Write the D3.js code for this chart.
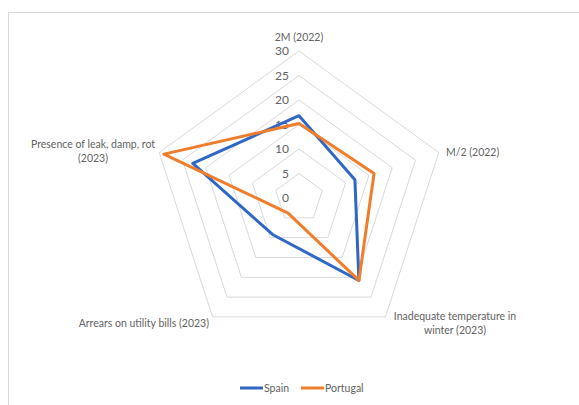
<!DOCTYPE html>
<html>
<head>
<meta charset="utf-8">
<script src="https://cdn.jsdelivr.net/npm/d3@7"></script>
<style>
  html, body { margin: 0; padding: 0; background: #fff; }
  svg { display: block; }
  text { font-family: Lato, "Open Sans", sans-serif; fill: #626262; }
</style>
</head>
<body>
<svg id="chart" width="579" height="405"></svg>
<script>
// Housing-deprivation indicators, Spain vs Portugal (%)
const categories = [
  "2M (2022)",
  "M/2 (2022)",
  "Inadequate temperature in winter (2023)",
  "Arrears on utility bills (2023)",
  "Presence of leak, damp, rot (2023)"
];
const spainValues = [16.8, 12.0, 20.8, 9.2, 22.8];
const portugalValues = [15.2, 16.1, 20.8, 3.8, 29.0];
const tickValues = [0, 5, 10, 15, 20, 25, 30];
const seriesNames = ["Spain", "Portugal"];

const series = [
  { name: seriesNames[0], values: spainValues, color: "#3067c4" },
  { name: seriesNames[1], values: portugalValues, color: "#f07d2c" }
];

const svg = d3.select("#chart");
const W = 579, H = 405;
const cx = 299, cy = 198;

// chart area border
svg.append("rect")
  .attr("x", 8.5).attr("y", 12.5)
  .attr("width", W).attr("height", H)
  .attr("fill", "none").attr("stroke", "#d9d9d9").attr("stroke-width", 1);

const r = d3.scaleLinear().domain([0, 30]).range([0, 147]);
const angle = d3.scalePoint().domain(d3.range(categories.length))
  .range([0, 2 * Math.PI * (categories.length - 1) / categories.length]);

const pt = (i, v) => {
  const a = angle(i);
  return [cx + r(v) * Math.sin(a), cy - r(v) * Math.cos(a)];
};

const g = svg.append("g");

// gridline pentagons
const ring = d3.line().curve(d3.curveLinearClosed);
tickValues.filter(t => t > 0).forEach(t => {
  g.append("path")
    .attr("d", ring(categories.map((c, i) => pt(i, t))))
    .attr("fill", "none")
    .attr("stroke", "#d9d9d9")
    .attr("stroke-width", 1);
});

// value axis labels
tickValues.forEach(t => {
  g.append("text")
    .attr("x", cx - 10)
    .attr("y", cy - r(t))
    .attr("dy", "0.35em")
    .attr("text-anchor", "end")
    .attr("font-size", 12)
    .text(t);
});

// category labels
const catLayout = [
  { lines: ["2M (2022)"], x: 299, y: 37, anchor: "middle" },
  { lines: ["M/2 (2022)"], x: 446, y: 152, anchor: "start" },
  { lines: ["Inadequate temperature in", "winter (2023)"], x: 455, y: 316, anchor: "middle" },
  { lines: ["Arrears on utility bills (2023)"], x: 209, y: 323, anchor: "end" },
  { lines: ["Presence of leak, damp, rot", "(2023)"], x: 93, y: 144, anchor: "middle" }
];
catLayout.forEach((L, i) => {
  const t = g.append("text")
    .attr("text-anchor", L.anchor)
    .attr("font-size", 10.5)
    .attr("aria-label", categories[i]);
  L.lines.forEach((ln, k) => {
    t.append("tspan").attr("x", L.x).attr("y", L.y + k * 14).attr("dy", "0.35em").text(ln);
  });
});

// series polygons
series.forEach(s => {
  g.append("path")
    .attr("d", ring(s.values.map((v, i) => pt(i, v))))
    .attr("fill", "none")
    .attr("stroke", s.color)
    .attr("stroke-width", 3)
    .attr("stroke-linejoin", "round");
});

// legend
const legend = svg.append("g");
const legendItems = [
  { x: 240, s: series[0] },
  { x: 301, s: series[1] }
];
legendItems.forEach(({ x, s }) => {
  legend.append("line")
    .attr("x1", x).attr("x2", x + 23)
    .attr("y1", 388).attr("y2", 388)
    .attr("stroke", s.color).attr("stroke-width", 3);
  legend.append("text")
    .attr("x", x + 24).attr("y", 388).attr("dy", "0.35em")
    .attr("font-size", 10.5)
    .text(s.name);
});
</script>
</body>
</html>
